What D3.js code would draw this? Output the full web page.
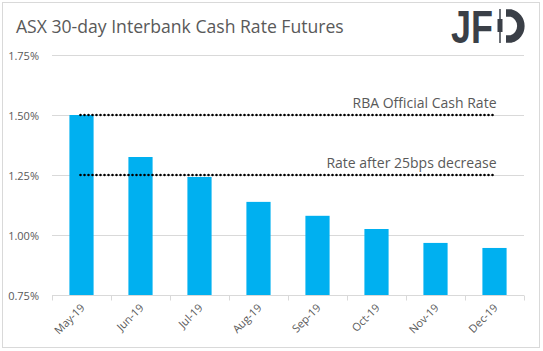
<!DOCTYPE html>
<html>
<head>
<meta charset="utf-8">
<script src="https://cdn.jsdelivr.net/npm/d3@7"></script>
<style>
  html, body { margin: 0; padding: 0; background: #fff; }
</style>
</head>
<body>
<div id="chart"></div>
<script>
const months = ["May-19", "Jun-19", "Jul-19", "Aug-19", "Sep-19", "Oct-19", "Nov-19", "Dec-19"]
const futures = [1.50, 1.325, 1.242, 1.138, 1.08, 1.025, 0.967, 0.946]
const refRates = [1.50, 1.25]
const refLabels = ["RBA Official Cash Rate", "Rate after 25bps decrease"]
const yTicks = [0.75, 1.00, 1.25, 1.50, 1.75]
const title = "ASX 30-day Interbank Cash Rate Futures"

const width = 543, height = 351
const margin = { top: 55, right: 19, bottom: 56, left: 52 }
const font = "'Open Sans', sans-serif"
const textColor = "#595959"
const gridColor = "#d9d9d9"

const svg = d3.select("#chart").append("svg")
    .attr("width", width)
    .attr("height", height)
    .style("font-family", font)

// marco
svg.append("rect")
    .attr("x", 2.5).attr("y", 2.5)
    .attr("width", 537).attr("height", 345)
    .attr("fill", "#fff")
    .attr("stroke", gridColor)

const x = d3.scaleBand()
    .domain(months)
    .range([margin.left, width - margin.right])
    .paddingInner(0.59)
    .paddingOuter(0.295)

const y = d3.scaleLinear()
    .domain([0.75, 1.75])
    .range([height - margin.bottom, margin.top])

// Titulo
svg.append("text")
    .attr("x", 16).attr("y", 33)
    .attr("fill", textColor)
    .attr("font-size", "17.6px")
    .text(title)

// Logo JFD
const logo = svg.append("g").attr("fill", "#3a3f47")
logo.append("text")
    .attr("x", 451).attr("y", 43)
    .attr("font-family", "'Liberation Sans', sans-serif")
    .attr("font-weight", "bold")
    .attr("font-size", "46px")
    .attr("textLength", 42)
    .attr("lengthAdjust", "spacingAndGlyphs")
    .text("JF")
logo.append("path")
    .attr("d", "M506,13 H511 A13.5,13.5 0 0 1 511,39 H506")
    .attr("fill", "none")
    .attr("stroke", "#3a3f47")
    .attr("stroke-width", 7.5)
logo.append("line")
    .attr("x1", 500).attr("x2", 500)
    .attr("y1", 9).attr("y2", 43)
    .attr("stroke", "#3a3f47").attr("stroke-width", 1.5)
logo.append("rect")
    .attr("x", 497.5).attr("y", 19)
    .attr("width", 5).attr("height", 13)

// Grilla
svg.append("g")
    .selectAll("line")
    .data(yTicks.slice(1))
    .join("line")
    .attr("x1", margin.left).attr("x2", width - margin.right)
    .attr("y1", d => y(d) + 0.5).attr("y2", d => y(d) + 0.5)
    .attr("stroke", gridColor)

// Eje Y
const yAxis = d3.axisLeft(y)
    .tickValues(yTicks)
    .tickFormat(d => d.toFixed(2) + "%")
    .tickSize(0)
    .tickPadding(13)
const yG = svg.append("g")
    .attr("transform", `translate(${margin.left},0.5)`)
    .call(yAxis)
yG.select(".domain").remove()
yG.selectAll("text")
    .attr("fill", textColor)
    .attr("font-size", "11px")
    .attr("font-family", font)

// Barras
svg.append("g")
    .selectAll("rect")
    .data(futures)
    .join("rect")
    .attr("x", (d, i) => x(months[i]))
    .attr("y", d => y(d))
    .attr("width", x.bandwidth())
    .attr("height", d => y(0.75) - y(d))
    .attr("fill", "#00b0f0")

// Eje X
const step = x.step()
const xG = svg.append("g")
    .attr("transform", `translate(0,${y(0.75) + 0.5})`)
xG.append("line")
    .attr("x1", margin.left).attr("x2", width - margin.right)
    .attr("stroke", gridColor)
xG.selectAll(".tk")
    .data(d3.range(months.length + 1))
    .join("line")
    .attr("class", "tk")
    .attr("x1", i => Math.round(margin.left + i * step) + 0.5)
    .attr("x2", i => Math.round(margin.left + i * step) + 0.5)
    .attr("y1", 0).attr("y2", 5)
    .attr("stroke", gridColor)
xG.selectAll(".lbl")
    .data(months)
    .join("text")
    .attr("class", "lbl")
    .attr("text-anchor", "end")
    .attr("fill", textColor)
    .attr("font-size", "11px")
    .attr("transform", d => `translate(${x(d) + x.bandwidth() / 2 + 4},${13}) rotate(-45)`)
    .text(d => d)

// Lineas punteadas de referencia
const x0 = x(months[0]) + x.bandwidth() / 2 - 1
const x1 = x(months[months.length - 1]) + x.bandwidth() / 2 + 2
const refs = svg.append("g")
refs.selectAll("line")
    .data(refRates)
    .join("line")
    .attr("x1", x0).attr("x2", x1)
    .attr("y1", d => y(d)).attr("y2", d => y(d))
    .attr("stroke", "#000")
    .attr("stroke-width", 2.6)
    .attr("stroke-linecap", "round")
    .attr("stroke-dasharray", "0 4")
refs.selectAll("text")
    .data(refRates)
    .join("text")
    .attr("x", x1)
    .attr("y", d => y(d) - 7)
    .attr("text-anchor", "end")
    .attr("fill", textColor)
    .attr("font-size", "14px")
    .text((d, i) => refLabels[i])
</script>
</body>
</html>
